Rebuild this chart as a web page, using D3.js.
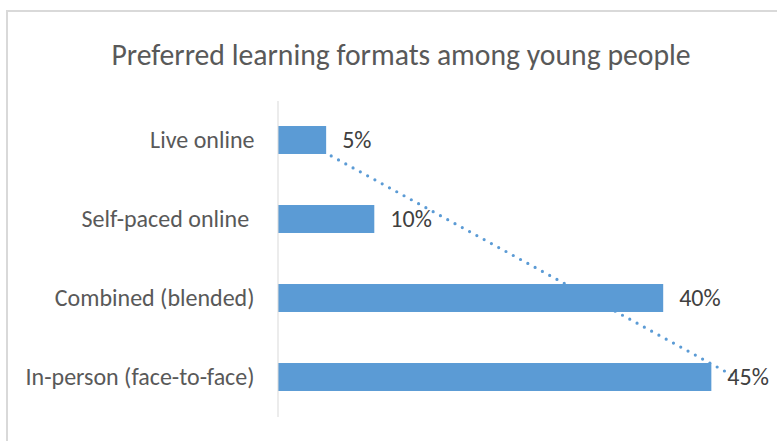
<!DOCTYPE html>
<html>
<head>
<meta charset="utf-8">
<script src="https://cdn.jsdelivr.net/npm/d3@7"></script>
<style>
  html, body { margin: 0; padding: 0; background: #fff; }
  svg text { font-family: Carlito, Calibri, Lato, sans-serif; white-space: pre; }
</style>
</head>
<body>
<svg id="chart" width="777" height="441"></svg>
<script>
// Survey categories, top to bottom, and their shares (%)
const categories = ["Live online", "Self-paced online ", "Combined (blended)", "In-person (face-to-face)"];
const values = [5, 10, 40, 45];
const valueLabels = ["5%", "10%", "40%", "45%"];
const title = "Preferred learning formats among young people";

const W = 777, H = 441;
const barColor = "#5B9BD5";

const svg = d3.select("#chart");

// chart frame
svg.append("rect")
  .attr("x", 7).attr("y", 11)
  .attr("width", W + 20).attr("height", H + 20)
  .attr("fill", "#fff")
  .attr("stroke", "#D9D9D9").attr("stroke-width", 2);

svg.append("text")
  .attr("x", 401).attr("y", 65)
  .attr("text-anchor", "middle")
  .attr("fill", "#595959")
  .style("font-size", "29.7px")
  .text(title);

const x = d3.scaleLinear().domain([0, 50]).range([278, 759.5]);
const y = d3.scaleBand().domain(categories)
  .range([100.5, 416.5])
  .paddingInner(0.646).paddingOuter(0.323);

// linear trendline fitted over category index 1..n
const n = values.length;
const idx = d3.range(1, n + 1);
const mx = d3.mean(idx), my = d3.mean(values);
const slope = d3.sum(idx, (k, i) => (k - mx) * (values[i] - my)) / d3.sum(idx, k => (k - mx) ** 2);
const intercept = my - slope * mx;
const trend = categories.map((c, i) => ({ c, v: intercept + slope * (i + 1) }));

svg.append("path")
  .datum([trend[0], trend[n - 1]])
  .attr("d", d3.line().x(d => x(d.v)).y(d => y(d.c) + y.bandwidth() / 2))
  .attr("fill", "none")
  .attr("stroke", barColor)
  .attr("stroke-width", 3.2)
  .attr("stroke-linecap", "round")
  .attr("stroke-dasharray", "0 8.3");

// bars
svg.append("g").selectAll("rect")
  .data(categories)
  .join("rect")
  .attr("x", x(0))
  .attr("y", d => y(d))
  .attr("width", (d, i) => x(values[i]) - x(0))
  .attr("height", y.bandwidth())
  .attr("fill", barColor);

// category axis
const axis = svg.append("g")
  .attr("transform", `translate(${x(0) - 0.5},0)`)
  .call(d3.axisLeft(y).tickSize(0).tickPadding(23));
axis.select(".domain").attr("stroke", "#D9D9D9").attr("stroke-width", 1);
axis.selectAll("text")
  .attr("fill", "#595959")
  .attr("dy", "0.32em")
  .style("font-size", "24px")
  .style("font-family", "Carlito, Calibri, Lato, sans-serif");

// value labels
svg.append("g").selectAll("text")
  .data(categories)
  .join("text")
  .attr("x", (d, i) => x(values[i]) + 16)
  .attr("y", d => y(d) + y.bandwidth() / 2)
  .attr("dy", "0.33em")
  .attr("fill", "#404040")
  .style("font-size", "24px")
  .text((d, i) => valueLabels[i]);
</script>
</body>
</html>
